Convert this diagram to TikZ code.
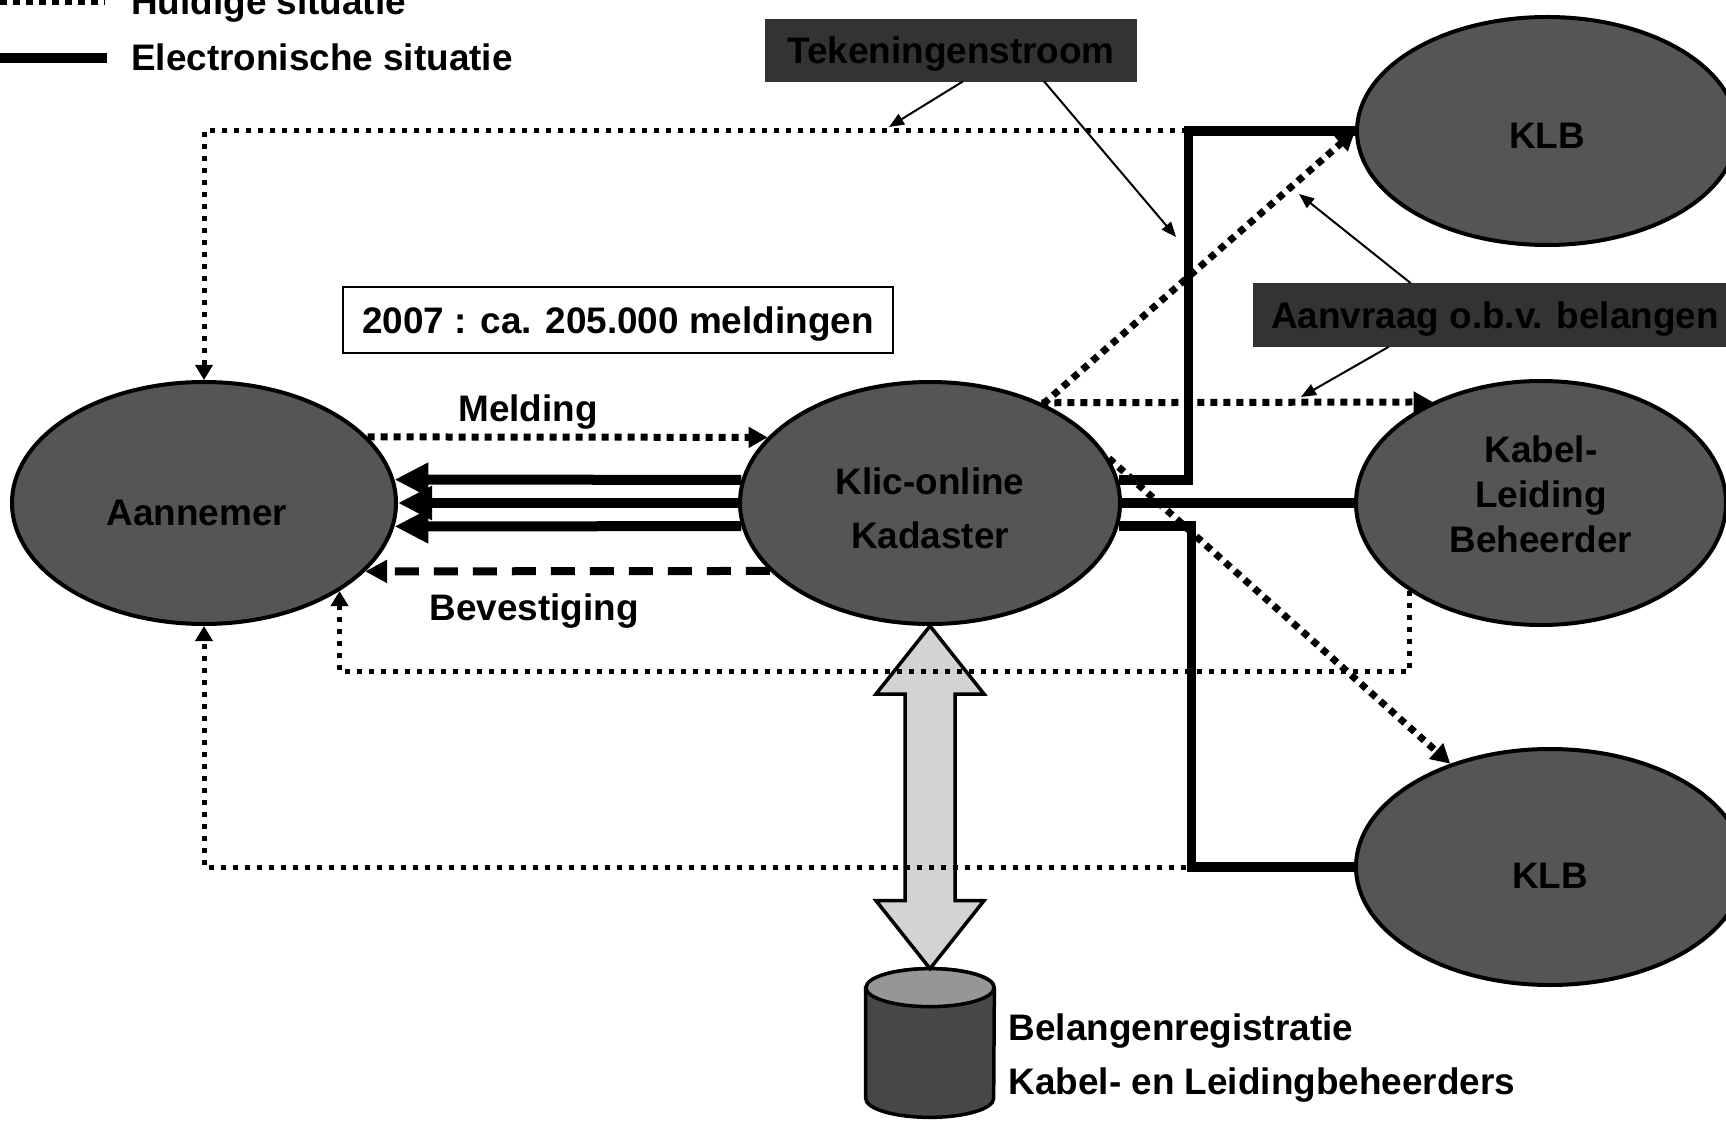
\documentclass[tikz,border=0pt]{standalone}
\usepackage{fontspec}
\setmainfont{Liberation Sans}
\usetikzlibrary{arrows.meta,calc,positioning,shapes.geometric}

\definecolor{partygray}{HTML}{555555}
\definecolor{boxgray}{HTML}{333333}
\definecolor{biggray}{HTML}{D3D3D3}
\definecolor{cylbody}{HTML}{474747}
\definecolor{cyltop}{HTML}{969696}

\newcommand{\lblfont}{\bfseries\fontsize{21}{25.6}\selectfont}

\begin{document}
\begin{tikzpicture}[
    x=0.2mm, y=-0.2mm,
    party/.style={ellipse, draw, line width=0.8mm, fill=partygray, inner sep=0pt, align=center, font=\lblfont},
    oneline/.style={text height=#1, text depth=0pt},
    darkbox/.style={rectangle, draw=boxgray, fill=boxgray, text=black, font=\lblfont, oneline=15.3pt},
    countbox/.style={rectangle, draw, line width=0.4mm, fill=white, font=\lblfont, oneline=15.3pt},
    labeltext/.style={font=\lblfont},
    oud/.style={line width=1.4mm, dash pattern=on 1.4mm off 1.2mm},
    oudpijl/.style={oud, -{Triangle[length=3.8mm, width=4mm]}},
    oudlus/.style={line width=1mm, dash pattern=on 1mm off 1.4mm, -{Triangle[length=3mm, width=3.4mm]}},
    elec/.style={line width=1.9mm},
    elecpijl/.style={line width=2mm, -{Triangle[length=6.8mm, width=6.4mm]}},
    bevestig/.style={line width=1.6mm, dash pattern=on 4.8mm off 3mm, -{Triangle[length=4.4mm, width=4.4mm]}},
    note/.style={line width=0.4mm, -{Triangle[length=3mm, width=2.4mm]}}
]
    \useasboundingbox (0,0) rectangle (1726,1122);

    % Legenda
    \coordinate (lgoud) at (0,2);
    \coordinate (lgnieuw) at (0,58);
    \draw[oud] (lgoud) -- ++(105,0);
    \node[labeltext, anchor=base west] (lgoudtxt) at (125,15) {Huidige situatie};
    \draw[elec] (lgnieuw) -- ++(107,0);
    \node[labeltext, anchor=base west] (lgnieuwtxt) at (125,71) {Electronische situatie};

    % Partijen
    \node[party, oneline=25.5pt, minimum width=76.8mm, minimum height=48.4mm] (aann) at (204,503) {Aannemer\hspace*{8pt}};
    \node[party, minimum width=76mm, minimum height=48.4mm] (klic) at (930,503) {\rule{0pt}{21.2pt}Klic-online\\[5pt]Kadaster};
    \node[party, oneline=20.3pt, minimum width=76mm, minimum height=45.6mm] (klbtop) at (1547,131) {KLB};
    \node[party, minimum width=74mm, minimum height=48.8mm] (kl) at (1541,503) {Kabel-\\Leiding\\Beheerder\rule[-10.2pt]{0pt}{0pt}};
    \node[party, oneline=24.5pt, minimum width=77.6mm, minimum height=47.2mm] (klbbot) at (1550,867) {KLB};

    % Tekstvakken
    \node[darkbox, minimum width=74.2mm, minimum height=12.4mm] (tek) at (951,50) {Tekeningenstroom};
    \node[darkbox, minimum width=96.8mm, minimum height=12.6mm] (aanv) at (1495,315) {Aanvraag o.b.v. belangen};
    \node[countbox, minimum width=110mm, minimum height=13.2mm] (count) at (618,320) {2007 : ca. 205.000 meldingen};

    % Belangenregistratie
    \node[minimum width=25.6mm, minimum height=29.6mm, inner sep=0pt] (db) at (930,1043) {};
    \draw[line width=0.7mm, fill=cylbody] ($(db.north west)+(0,19)$) -- ($(db.south west)+(0,-19)$)
        arc[start angle=180, end angle=360, x radius=12.8mm, y radius=3.8mm]
        -- ($(db.north east)+(0,19)$)
        arc[start angle=0, end angle=180, x radius=12.8mm, y radius=3.8mm] -- cycle;
    \draw[line width=0.7mm, fill=cyltop] ($(db.north)+(0,19)$) ellipse [x radius=12.8mm, y radius=3.8mm];
    \node[labeltext, align=left, right=1.6mm of db, yshift=-3mm] (dblabel) {Belangenregistratie\\[5pt]Kabel- en Leidingbeheerders};

    % Dubbele pijl
    \draw[line width=0.7mm, fill=biggray] (klic.south) -- ++(54,68) -- ++(-29,0)
        -- ($(db.north)+(25,-68)$) -- ++(29,0) -- (db.north) -- ++(-54,-68) -- ++(29,0)
        -- ($(klic.south)+(-25,68)$) -- ++(-29,0) -- cycle;

    % Huidige situatie
    \draw[oudlus] (klbtop.west) -| (aann.north);
    \draw[oudlus] (kl.214) -- ++(0,80) -| (aann.327);
    \draw[oudlus] (klbbot.west) -| (aann.south);
    \draw[oudpijl] (aann.22) -- (klic.158);
    \draw[oudpijl] (klic) -- (klbtop.west);
    \draw[oudpijl] (klic.42) -- (kl.137);
    \draw[oudpijl] (klic.14) -- (klbbot.134);

    % Electronische situatie
    \draw[elec] (klic.7) -- ++(70,0) |- (klbtop.west);
    \draw[elec] (klic.east) -- (kl.west);
    \draw[elec] (klic.353) -- ++(73,0) |- (klbbot.west);
    \draw[elecpijl] (klic.173) -- (aann.7);
    \draw[elecpijl] (klic.west) -- (aann.east);
    \draw[elecpijl] (klic.187) -- (aann.353);
    \draw[bevestig] (klic.203) -- (aann.337);

    % Verwijzingen
    \coordinate (tekpunt1) at (889,127);
    \coordinate (tekpunt2) at (1176,237);
    \coordinate (aanpunt1) at (1299,194);
    \coordinate (aanpunt2) at (1301,397);
    \draw[note] ($(tek.south)+(12,0)$) -- (tekpunt1);
    \draw[note] ($(tek.south)+(93,0)$) -- (tekpunt2);
    \draw[note] ($(aanv.north west)+(158,0)$) -- (aanpunt1);
    \draw[note] ($(aanv.south west)+(136,0)$) -- (aanpunt2);

    % Labels
    \node[labeltext] (melding) at (528,412) {Melding};
    \node[labeltext] (bevestiging) at (534,611) {Bevestiging};
\end{tikzpicture}
\end{document}
